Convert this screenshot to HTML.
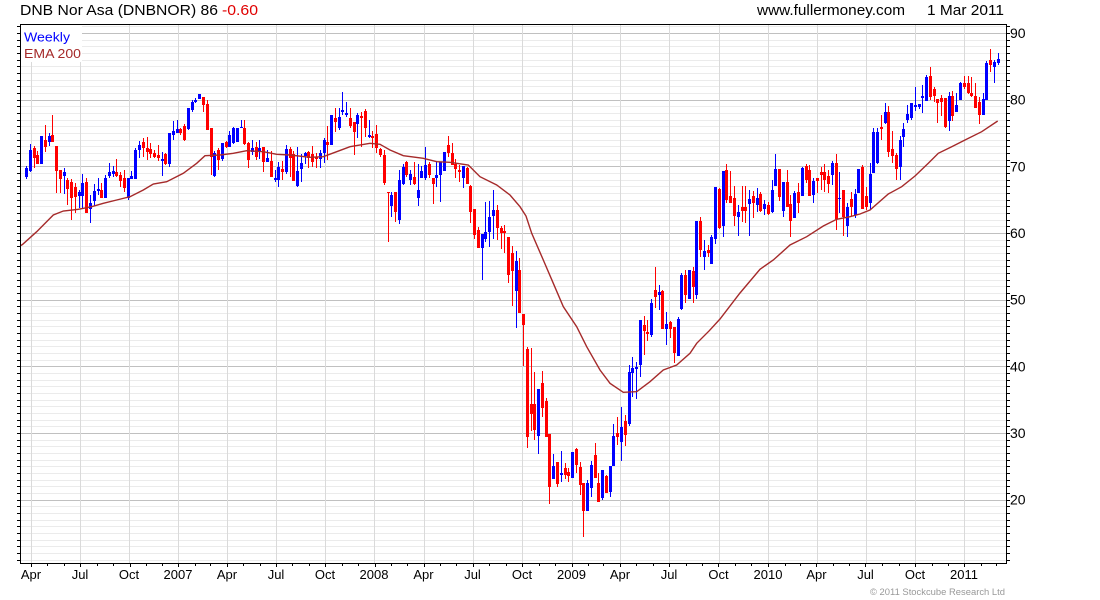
<!DOCTYPE html>
<html><head><meta charset="utf-8">
<style>
html,body{margin:0;padding:0;background:#fff;}
svg{display:block;font-family:"Liberation Sans",Arial,sans-serif;}
</style></head>
<body>
<svg id="c" width="1100" height="600" viewBox="0 0 1100 600">
<rect x="0" y="0" width="1100" height="600" fill="#fff"/>
<g id="grid" shape-rendering="crispEdges"></g>
<rect x="21" y="25" width="61" height="37" fill="#fff"/>
<g id="candles" shape-rendering="crispEdges"></g>
<polyline id="ema" fill="none" stroke="#a52a2a" stroke-width="1.4" points="21,245.5 22.7,244.3 36.7,231.7 53.3,215 63.3,211 78.3,209.3 91.7,206.7 103.3,203.3 116.7,200 130,196.7 143.3,190 153.3,184 166.7,181.7 183.3,173.3 196.7,163.3 205,155.7 220,155 233.3,153.3 246.7,150.7 263.3,151.7 276.7,154.3 290,155 310,157.3 323.3,156.7 336.7,151.7 350,146.7 370,143.3 380,144.3 390,150 403.3,155.7 423.3,158.3 436.7,161.7 450,162.3 468.3,165 480,176.7 496.7,185 510,195 520,206.7 526,216 531.7,233.3 543.3,260 553.3,283.3 563.3,306.7 576.7,326.7 586.7,346.7 600,370 610,383.3 623.3,392.3 636.7,391.7 650,381.7 663.3,370 676.7,365 690,353.3 696.7,343.3 709.3,330.7 720,319 740,293 760,269.3 773.3,260 790,245 806.7,236.7 823.3,226 836.7,219.3 850,216.7 860,214 870,210 888.3,194 901.7,186.7 915,176 928.3,163.3 938.3,153.3 951.7,146.7 965,140 981.7,131.7 997.7,121"/>
<g id="axes" shape-rendering="crispEdges" stroke="#000" stroke-width="1">
<line x1="20" y1="24.5" x2="1007" y2="24.5"/>
<line x1="20.5" y1="24" x2="20.5" y2="564"/>
<line x1="1006.5" y1="24" x2="1006.5" y2="564"/>
<line x1="20" y1="563.5" x2="1007" y2="563.5"/>
</g>
<g id="ticks" shape-rendering="crispEdges" stroke="#000" stroke-width="1"></g>
<!-- header -->
<text x="20" y="15" font-size="15" fill="#000" textLength="198" lengthAdjust="spacingAndGlyphs">DNB Nor Asa (DNBNOR) 86</text>
<text x="222" y="15" font-size="15" fill="#e00000" textLength="36" lengthAdjust="spacingAndGlyphs">-0.60</text>
<text x="757" y="15" font-size="15" fill="#000" textLength="148" lengthAdjust="spacingAndGlyphs">www.fullermoney.com</text>
<text x="927" y="15" font-size="15" fill="#000" textLength="77" lengthAdjust="spacingAndGlyphs">1 Mar 2011</text>
<!-- legend -->
<text x="24" y="41.5" font-size="13" fill="#0000ff" textLength="46" lengthAdjust="spacingAndGlyphs">Weekly</text>
<text x="24" y="58" font-size="13" fill="#a52a2a" textLength="57" lengthAdjust="spacingAndGlyphs">EMA 200</text>
<!-- y labels -->
<g font-size="14" fill="#000">
<text x="1010" y="38">90</text>
<text x="1010" y="104.7">80</text>
<text x="1010" y="171.3">70</text>
<text x="1010" y="238">60</text>
<text x="1010" y="304.7">50</text>
<text x="1010" y="371.3">40</text>
<text x="1010" y="438">30</text>
<text x="1010" y="504.7">20</text>
</g>
<!-- x labels -->
<g font-size="13" fill="#000" text-anchor="middle">
<text x="31" y="579">Apr</text>
<text x="80" y="579">Jul</text>
<text x="129" y="579">Oct</text>
<text x="178" y="579">2007</text>
<text x="227" y="579">Apr</text>
<text x="276" y="579">Jul</text>
<text x="325" y="579">Oct</text>
<text x="374" y="579">2008</text>
<text x="423.5" y="579">Apr</text>
<text x="472.5" y="579">Jul</text>
<text x="522" y="579">Oct</text>
<text x="571.5" y="579">2009</text>
<text x="620" y="579">Apr</text>
<text x="669" y="579">Jul</text>
<text x="718.5" y="579">Oct</text>
<text x="768" y="579">2010</text>
<text x="816.5" y="579">Apr</text>
<text x="865.5" y="579">Jul</text>
<text x="915" y="579">Oct</text>
<text x="964" y="579">2011</text>
</g>
<text x="870" y="595" font-size="9" fill="#999" textLength="135" lengthAdjust="spacingAndGlyphs">© 2011 Stockcube Research Ltd</text>
</svg>
<script>
(function(){
var g='',i,y,v;
// horizontal grid
for(v=11;v<=91;v++){
  y=Math.round(33+(90-v)*6.6667)+0.5;
  var major=(v%10===0);
  g+='<line x1="21" x2="1006" y1="'+y+'" y2="'+y+'" stroke="'+(major?'#c0c0c0':'#ebebeb')+'" stroke-width="1"/>';
}
var Q=[31,80,129,178,227,276,325,374,423.5,472.5,522,571.5,620,669,718.5,768,816.5,865.5,915,964];
for(i=0;i<Q.length;i++){
  var x=Math.round(Q[i])+0.5;
  g+='<line x1="'+x+'" x2="'+x+'" y1="25" y2="563" stroke="#dadada" stroke-width="1"/>';
}
document.getElementById('grid').innerHTML=g;
// ticks
var t='';
for(v=11;v<=91;v++){
  y=Math.round(33+(90-v)*6.6667)+0.5;
  t+='<line x1="17" x2="20" y1="'+y+'" y2="'+y+'"/>';
  t+='<line x1="1007" x2="1010" y1="'+y+'" y2="'+y+'"/>';
}
// month ticks
var base=Date.UTC(2007,0,1);
for(var yr=2006;yr<=2011;yr++){
  for(var m=0;m<12;m++){
    if(yr===2006&&m<3)continue;
    if(yr===2011&&m>2)continue;
    var d=(Date.UTC(yr,m,1)-base)/86400000;
    var xx=178.3+d*0.538;
    if(yr===2006)xx+=0.7;
    xx=Math.round(xx)+0.5;
    t+='<line x1="'+xx+'" x2="'+xx+'" y1="564" y2="'+(m%3===0?567:566)+'"/>';
  }
}
document.getElementById('ticks').innerHTML=t;
// candles
var S="b,167.7,176.7,166,179;b,150,171,144.3,172.3;r,148.3,157.7,146,167.7;r,155,164.3,151,164.3;b,136,164.3,136,164.3;r,140,146.7,125,151.7;b,136,141.7,132.7,145.7;r,135,141.7,115,141.7;r,146,171,146,192.7;r,170,179.3,170,193.3;b,171.7,176,167.7,194.3;r,180,189.3,178.3,205;r,181.7,197.7,179,220;r,186.7,196.7,182.7,213.3;b,192.3,195.7,190,208.3;b,182.7,195.7,174.3,209;r,182.3,212.7,178.3,212.7;b,202.7,209.3,195,223.3;b,191,201,184.3,205.7;b,189.3,191,178.3,195;r,190,197.7,183.3,197.7;b,178.3,197.7,175,197.7;b,172.3,175.7,162.7,178.3;b,171,174.3,166,176.7;r,171.7,175.7,159,176.7;r,175,181,171.7,186.7;r,178.3,188.3,170,191.7;b,178.3,197.7,177.7,200;b,175.7,179.3,171,179.3;b,150,179.3,147.7,179.3;b,145,150,141,158.3;r,142.3,147.7,137.7,156.7;r,148.3,151.7,136.7,160;r,149,154.3,143.3,158.3;r,153.3,156.7,150,157.7;r,155,158.3,145,161;b,159,161,151.7,175.7;r,154.3,164.3,153.3,165;b,133.3,164.3,132.7,166.7;b,131,135,121,140;b,129.3,133.3,120,133.3;r,129.3,133.3,127.7,135;r,125.7,140,124.3,141;b,108.3,129.3,108.3,130;b,101.7,110,100,111.7;b,100,101.7,97.7,103.3;b,94.3,99,94.3,99;r,96.7,105,96.7,111.7;r,104.3,130,100,130;r,128.3,156.7,128.3,175;b,153.3,175.7,151,176.7;r,150,160,148.3,170;b,142.7,159,142.7,161;r,141.7,146.7,141,148.3;b,135,146.7,131,146.7;b,127.7,143.3,126.7,144.3;b,128.3,141.7,128.3,141.7;b,126.7,128.3,120,128.3;r,128.3,144.3,120,145;r,143.3,160,141.7,168.3;b,147.7,151.7,140,155;r,146.7,156.7,141.7,160;b,147.7,151.7,140,159;r,146.7,162.3,146.7,172.3;b,158.3,162.3,150,162.3;r,161,176.7,151,176.7;b,177.7,180,170,181.7;b,167,180,161.7,186.7;r,169,171.7,161,180;b,149,171.7,145,174.3;r,149,158.3,146.7,176.7;r,154.3,181,151,181;b,171,185.7,146.7,186.7;b,163.3,169,154.3,182.3;b,153.3,156,151.7,164.3;r,151.7,157.7,151,168.3;r,154.3,161.7,145.7,166.7;r,156.7,159,153.3,168.3;b,153.3,159,150,168.3;b,140,153.3,137.7,163.3;r,142.3,145,125.7,160;b,115,145,115,145;r,117.7,121.7,108.3,131.7;b,116.7,128.3,108.3,130;b,110,111.7,91.7,115;b,113.3,115,101.7,116.7;r,117.7,125.7,108.3,128.3;r,122.3,131.7,122.3,155;b,115,124.3,113.3,138.3;r,115.7,117.7,112.3,146.7;r,111,127.7,109,136.7;b,135,136.7,120,138.3;r,135.7,138.3,131,148.3;r,134.3,148.3,125,153.3;r,149.3,155,148.3,156.7;r,155,183.3,150,185;r,191.7,193.3,191.7,241.7;b,195,205.7,191.7,216.7;r,191.7,212.3,191.7,221.7;b,180,220,170,224.3;b,166.7,184.3,164.3,185;r,162.3,175,161,176.7;b,174.3,180,170,185;r,176.7,184.3,161.7,185;b,190,197.7,164.3,205.7;b,171,177.7,165.7,178.3;b,165,177.7,146.7,180;r,164,175,162.3,178.3;r,178.3,184.3,178.3,204.3;b,175,177.7,162.3,186.7;b,162.3,175,162.3,202.3;b,151.7,171,151.7,171;r,145,153.3,135.7,156.7;r,153.3,165,143.3,165;r,164.3,169,159,177.7;r,170,172.3,165,182.3;b,165.7,177.7,165.7,187.7;r,168.3,184.3,166.7,184.3;r,185.7,211.7,185,223.3;r,209,235,209,239;r,230,247.7,226.7,248.3;b,234.3,247.7,234.3,280;b,231.7,239,201.7,241.7;b,216.7,231.7,201,246.7;b,210,215.7,190,239;r,210,228.3,205,240;r,228.3,233.3,225.7,249;r,231,233.3,225,253.3;r,236.7,275,236.7,283.3;r,252.7,270.7,246,306;b,261,290.7,251,327.7;r,270,313.3,258.3,313.3;r,314,325,314,365.7;r,349,436.7,346.7,448.3;r,404,414,347.7,430.7;r,404,430,372.3,440;b,389.3,435.7,389.3,454.3;r,382.7,408.3,371,417.3;r,401,437.3,397.7,437.3;r,434,487.3,434,504;b,466,479.3,454,479.3;r,462.3,484,462.3,486.7;b,472.7,475,450.7,481.7;r,468.3,475,463.3,479.3;r,471.7,476,468.3,481.7;b,452.3,477.7,452.3,477.7;r,449.3,465,447.7,472.7;r,466.7,485,461.7,495;r,483.3,510.7,483.3,537.3;b,482.7,510.7,480,510.7;b,465,488.3,460.7,496.7;r,455,478.3,442.7,478.3;r,483.3,501.7,473.3,501.7;b,470,497.7,470,500;r,476,493.3,475,493.3;b,466,491.7,466,496.7;b,436,465.7,424,465.7;r,433.3,436.7,417.3,445;b,427.3,441.7,407.3,460.7;r,420.7,435,415,446;b,372.3,424,365,425.7;b,368.3,372.7,356.7,396.7;b,366.7,369,361.7,399;b,320,365,320,376.7;r,325,330.7,316,355;r,331.7,334,320,340.7;b,302.7,335,299.3,336.7;r,290,296.7,267.3,308.3;b,291.7,295,285,310;r,290.7,329,290,329;b,324,329.3,311.7,345;r,322.3,329.3,320.7,337.7;r,327,353.3,327,362.7;b,319,355.7,316.7,355.7;b,275,309.3,272.7,310;r,275,295,270,302.7;b,270,299,270,299;r,271,286.7,266.7,302.7;b,221,295,221,299.3;r,221,250,216.7,256.7;b,251,256.7,240,270;r,250,253.3,245,256.7;b,236.7,264,235,264;b,186.7,239.3,186.7,244;r,189.3,228.3,188.3,229.3;b,170.7,226,170.7,236.7;r,170,200,164,203.3;r,196,202.7,170.7,202.7;r,198.3,216,186,226;b,211.7,216.7,205,236;r,207.3,210.7,186,221.7;r,207.3,210.7,186,222.7;b,199,204,190,236;r,196,203.3,190.7,218.3;b,197.7,205,188.3,211.7;r,194,210.7,191.7,211.7;b,204,209.3,200,215;r,205,214.3,201.7,215;b,190,211.7,180,212.7;b,169.3,186,154,186;r,169.3,196.7,169.3,200.7;b,181.7,210.7,181.7,216.7;r,181.7,207.3,170,207.3;r,204,220.7,195,236.7;b,192.7,218.3,190.7,218.3;r,191.7,203.3,182.7,212.7;b,167.7,196,166.7,196;r,166,180,164,182.7;r,170,196,165,196;b,180.7,195,178.3,202.7;r,178.3,181,178.3,192.7;r,171.7,175,167.3,190;r,171.7,180,164,191.7;r,176,184.3,170,192.7;b,163.3,175,160.7,185;r,162.7,219.3,154,230;b,198.3,199.3,171.7,212.7;r,190,216.7,190,236;b,207.3,226,203.3,236.7;r,199,207.3,191.7,216;b,194,215,189.3,218.3;b,169.3,192.7,169.3,192.7;r,166.7,209.3,165,209.3;r,196,206.7,186.7,210;b,174,202.7,163.3,210;b,131.7,173.3,128.3,173.3;b,131.7,163.3,128.3,164;r,127.3,129.3,115,140;b,111.7,123.3,102.7,124;r,111.7,151.7,106,156.7;r,149.3,156,130.7,163.3;r,155,169.3,153.3,180;b,140,166.7,136,180;b,129.3,137.3,123.3,147.3;b,114,120,105,123.3;b,103.3,118.3,102.7,120;b,105,106.7,87.3,110.7;b,104,106.7,104,109;b,96,98.3,85,112.7;b,77.3,100.7,75,100.7;r,76,96.7,66.7,100;r,89.3,96,86.7,101.7;r,99.3,102.7,99.3,123.3;r,98.3,101.7,95,116;r,98.3,126.7,98.3,128.3;b,96,120.7,91.7,130.7;r,96,116,90.7,120.7;b,105,111.7,93.3,111.7;b,83.3,100,81.7,100;r,82.7,86.7,76,89.3;r,83.3,93.3,76,94;r,92.7,96,76.7,97.3;r,96,108.3,83.3,108.3;r,101.7,115,97.3,124;b,99.3,115,92.7,115;b,62.7,100,60.7,100;r,60,65,49.3,71.7;b,61.7,66.7,60,83.3;b,59.3,63.3,53.3,65";
var rows=S.split(';'),c='';
for(i=0;i<rows.length;i++){
  var p=rows[i].split(',');
  var col=p[0]==='b'?'#0000ff':'#ff0000';
  var bt=Math.round(+p[1]),bb=Math.round(+p[2]),wt=Math.round(+p[3]),wb=Math.round(+p[4]);
  var cx=Math.round(26+i*3.766);
  var bh=Math.max(1,bb-bt),wh=Math.max(1,wb-wt);
  c+='<rect x="'+cx+'" y="'+wt+'" width="1" height="'+wh+'" fill="'+col+'"/>';
  c+='<rect x="'+(cx-1)+'" y="'+bt+'" width="3" height="'+bh+'" fill="'+col+'"/>';
}
document.getElementById('candles').innerHTML=c;
})();
</script>
</body></html>
